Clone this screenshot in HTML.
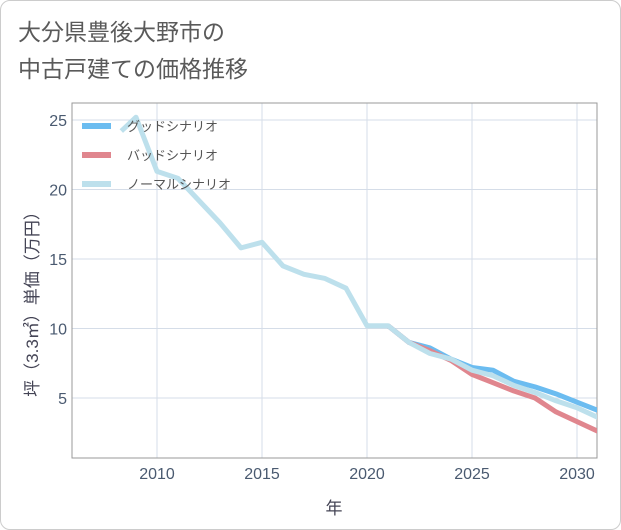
<!DOCTYPE html>
<html><head><meta charset="utf-8"><style>
body{margin:0;background:#fff;font-family:"Liberation Sans","Noto Sans CJK JP",sans-serif}
.card{position:absolute;left:0;top:0;width:619px;height:528px;border:1px solid #ccc;border-radius:10px;background:#fff}
.title{position:absolute;left:18px;top:14px;font-size:23px;line-height:37px;color:#5a5a5a;font-family:"Liberation Sans","Noto Sans CJK JP",sans-serif}
</style></head><body>
<div class="card"></div>
<div class="title">大分県豊後大野市の<br>中古戸建ての価格推移</div>
<svg id="c" width="621" height="530" style="position:absolute;left:0;top:0"></svg>
<script>
const years=[2008.3,2009,2010,2011,2012,2013,2014,2015,2016,2017,2018,2019,2020,2021,2022,2023,2024,2025,2026,2027,2028,2029,2030,2031];
const normal=[24.2,25.2,21.3,20.8,19.2,17.6,15.8,16.2,14.5,13.9,13.6,12.9,10.2,10.2,9.0,8.2,7.8,7.0,6.6,5.9,5.4,4.8,4.3,3.6];
const futureYears=[2021,2022,2023,2024,2025,2026,2027,2028,2029,2030,2031];
const good=[10.2,9.0,8.6,7.8,7.2,7.0,6.2,5.8,5.3,4.7,4.1];
const bad=[10.2,9.0,8.4,7.7,6.7,6.1,5.5,5.0,4.0,3.3,2.6];
const xTicks=[2010,2015,2020,2025,2030];
const yTicks=[5,10,15,20,25];
const L=72,R=597,T=103,B=458;
const x=y=>157+(y-2010)*21;
const yv=v=>398-(v-5)*13.9;
const s=document.getElementById('c');const NS='http://www.w3.org/2000/svg';
function mk(t,a,p){const e=document.createElementNS(NS,t);for(const k in a)e.setAttribute(k,a[k]);(p||s).appendChild(e);return e;}
xTicks.forEach(t=>{const l=mk('line',{x1:x(t),x2:x(t),y1:T,y2:B,stroke:'#d5dde8','stroke-width':1});


const tx=mk('text',{x:x(t),y:479,'text-anchor':'middle','font-size':16,fill:'#4a5a70'});tx.textContent=t;

});
yTicks.forEach(t=>{const l=mk('line',{x1:L,x2:R,y1:yv(t),y2:yv(t),stroke:'#d5dde8','stroke-width':1});


const tx=mk('text',{x:67,y:yv(t)+6,'text-anchor':'end','font-size':16,fill:'#4a5a70'});tx.textContent=t;

});
const fr=mk('rect',{x:L,y:T,width:R-L,height:B-T,fill:'none',stroke:'#999','stroke-width':1});


const cp=mk('clipPath',{id:'cp'});mk('rect',{x:L,y:T,width:R-L,height:B-T},cp);
function line(xs,vs,col,name){const p=mk('polyline',{points:xs.map((a,i)=>x(a)+','+yv(vs[i])).join(' '),fill:'none',stroke:col,'stroke-width':5,'stroke-linejoin':'round','clip-path':'url(#cp)'});

}
line(futureYears,good,'#6bbcf0','good-scenario-line');
line(futureYears,bad,'#e0868e','bad-scenario-line');
line(years,normal,'#bde0ec','normal-scenario-line');
const leg=[['グッドシナリオ','#6bbcf0'],['バッドシナリオ','#e0868e'],['ノーマルシナリオ','#bde0ec']];
leg.forEach((d,i)=>{const yy=126+i*29;const g=mk('g',{});


mk('line',{x1:82,x2:111,y1:yy,y2:yy,stroke:d[1],'stroke-width':6},g);
const t=mk('text',{x:127,y:yy+5,'font-size':13,fill:'#555'},g);t.textContent=d[0];});
const xt=mk('text',{x:334,y:514,'text-anchor':'middle','font-size':17,fill:'#445'});xt.textContent='年';


const yt=mk('text',{x:0,y:0,'text-anchor':'middle','font-size':17,fill:'#445',transform:'translate(38,300) rotate(-90)'});yt.textContent='坪（3.3㎡）単価（万円）';


</script>
</body></html>
